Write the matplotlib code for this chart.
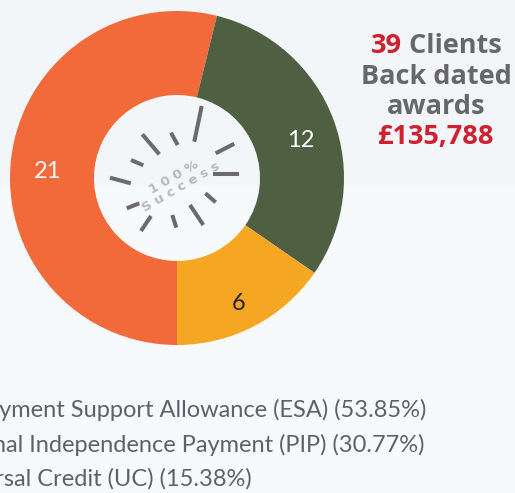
import matplotlib
matplotlib.use("Agg")
import matplotlib.pyplot as plt
from matplotlib.patches import Rectangle
import numpy as np

# ---- data ----
categories = ["Employment Support Allowance (ESA)",
              "Personal Independence Payment (PIP)",
              "Universal Credit (UC)"]
values = [21, 12, 6]
colors = ["#F2693A", "#4F5F41", "#F5A623"]
label_colors = ["white", "white", "#222222"]
headline_count = "39"
headline_word = "Clients"
headline_lines = ["Back dated", "awards"]
headline_amount = "£135,788"
center_word1 = "100%"
center_word2 = "Success"

W, H = 515, 493
fig = plt.figure(figsize=(W / 100, H / 100), dpi=100)
ax = fig.add_axes([0, 0, 1, 1])

cx, cy, R = 177, H - 178, 167
total = sum(values)
wedges, texts, autotexts = ax.pie(
    values, colors=colors, startangle=-90, counterclock=False,
    center=(cx, cy), radius=R,
    wedgeprops=dict(width=R - 83, linewidth=0),
    autopct=lambda p: f"{round(p * total / 100)}", pctdistance=0.785,
    textprops=dict(fontsize=17, family="Lato"))
ax.set_xlim(0, W)
ax.set_ylim(0, H)
ax.set_aspect("auto")
ax.axis("off")

# background bands
ax.add_patch(Rectangle((0, 0), W, H, color="#F6FAFD", zorder=0))
ax.add_patch(Rectangle((0, H - 185), W, 185, color="#F2F6F9", zorder=0))

for t, c in zip(autotexts, label_colors):
    t.set_color(c)
    x, y = t.get_position()
    t.set_position((x + 1, y - 9))

# center graphic rays (pixel coords, y down)
rays = [((201.7, 106), (194.3, 141.7)), ((142.3, 134.3), (159.3, 154.3)),
        ((171, 132.7), (177.7, 145)), ((234.3, 143.7), (215.7, 153.3)),
        ((131, 160), (143.3, 165.3)), ((110, 177.7), (130.7, 183.3)),
        ((213.3, 174.3), (238.7, 174.3)), ((205.3, 193.3), (215.7, 202.3)),
        ((126.7, 208.3), (139.3, 203.3)), ((151, 216), (141, 231)),
        ((172.3, 215), (176.3, 227.7)), ((190, 205), (203.3, 225))]
for (x0, y0), (x1, y1) in rays:
    ax.plot([x0, x1], [H - y0, H - y1], color="#6E6A6A", lw=2.9,
            solid_capstyle="butt", zorder=3)
ax.text(174, H - 177.5, " ".join(center_word1), rotation=30, color="#B8B8B8",
        fontsize=9.5, fontweight="bold", ha="center", va="center",
        family="DejaVu Sans", zorder=3)
ax.text(181.5, H - 187, " ".join(center_word2), rotation=30, color="#B8B8B8",
        fontsize=9.5, fontweight="bold", ha="center", va="center",
        family="DejaVu Sans", zorder=3)

# headline box text
tx = 436
fam = "Open Sans"
fs = 19.5
red = "#D01F2E"
gray = "#676767"
renderer = fig.canvas.get_renderer()
probe = ax.text(0, 0, headline_count + " " + headline_word, fontsize=fs,
                fontweight="bold", family=fam)
wfull = probe.get_window_extent(renderer).width
probe.remove()
t39 = ax.text(tx - wfull / 2, H - 46 - 7, headline_count, color=red,
              fontsize=fs, fontweight="bold", family=fam,
              ha="left", va="baseline")
ax.annotate(" " + headline_word, xy=(1, 0), xycoords=t39,
            color=gray, fontsize=fs, fontweight="bold", family=fam,
            ha="left", va="bottom")
for i, line in enumerate(headline_lines):
    ax.text(tx, H - (77 + 30 * i), line, color=gray, fontsize=fs,
            fontweight="bold", family=fam, ha="center", va="center")
ax.text(tx, H - 137, headline_amount, color=red, fontsize=fs,
        fontweight="bold", family=fam, ha="center", va="center")

# legend text (cut off at left)
for i, (cat, v) in enumerate(zip(categories, values)):
    pct = v / total * 100
    ax.text(-66, H - (410 + 34.5 * i), f"{cat} ({pct:.2f}%)", color="#5E6268",
            fontsize=17, family="Lato", ha="left", va="center")

fig.savefig("out.png", dpi=100)
